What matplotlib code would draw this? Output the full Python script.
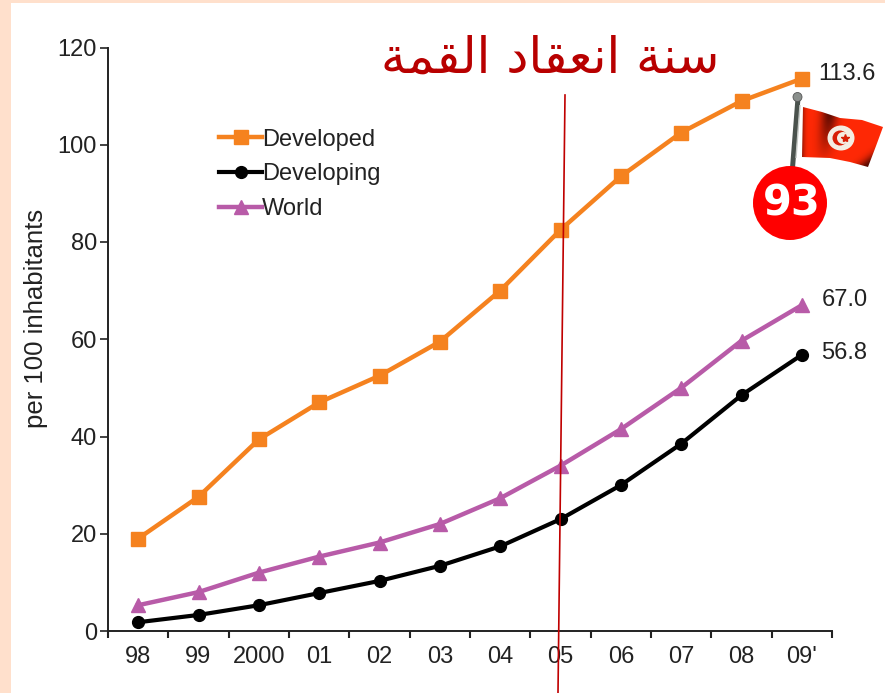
import numpy as np
import matplotlib
matplotlib.use('Agg')
import matplotlib.pyplot as plt
from matplotlib.patches import Circle, Ellipse, Polygon, Rectangle

years = ['98', '99', '2000', '01', '02', '03', '04', '05', '06', '07', '08', "09'"]
developed = [19.0, 27.6, 39.4, 47.0, 52.5, 59.5, 70.0, 82.5, 93.5, 102.5, 109.0, 113.6]
developing = [1.8, 3.3, 5.3, 7.8, 10.3, 13.4, 17.4, 23.0, 30.0, 38.5, 48.5, 56.8]
world = [5.3, 8.0, 12.0, 15.3, 18.2, 22.0, 27.3, 34.0, 41.5, 50.0, 59.7, 67.0]
end_labels = ['113.6', '56.8', '67.0']
y_ticks = [0, 20, 40, 60, 80, 100, 120]

# presentation forms, reversed because matplotlib does no arabic shaping
summit = ('\ufeb3\ufee8\ufe94 \ufe8d\ufee7\ufecc\ufed8\ufe8e\ufea9 '
          '\ufe8d\ufedf\ufed8\ufee4\ufe94')[::-1]

W, H = 885, 693
fig = plt.figure(figsize=(W/100, H/100), dpi=100, facecolor='#FFE0CC')
plt.rcParams['font.family'] = ['Liberation Sans', 'DejaVu Sans']

# white page, in pixel coordinates
page = fig.add_axes([0, 0, 1, 1], zorder=0)
page.set_xlim(0, W)
page.set_ylim(H, 0)
page.axis('off')
page.add_patch(Rectangle((11, 3), W - 11, H - 3, fc='white', ec='none'))

ax = fig.add_axes([108/W, 1 - 631/H, (832 - 108)/W, (631 - 47.5)/H], zorder=1)
ax.patch.set_alpha(0)
x = np.arange(len(years)) + 0.5

ax.plot(x, developed, color='#F5821F', lw=3.2, marker='s', ms=9.5, label='Developed')
ax.plot(x, developing, color='black', lw=3, marker='o', ms=8.5, label='Developing')
ax.plot(x, world, color='#B85BA8', lw=3.2, marker='^', ms=9.5, label='World')

ax.set_xlim(0, len(years))
ax.set_ylim(0, 120)
ax.set_xticks(np.arange(len(years) + 1))
ax.set_xticklabels([])
ax.set_xticks(x, minor=True)
ax.set_xticklabels(years, minor=True, fontsize=17, color='#222222')
ax.tick_params(axis='x', which='minor', length=0, pad=11)
ax.tick_params(axis='x', which='major', length=5, width=1.5, color='#222222')
ax.set_yticks(y_ticks)
ax.tick_params(axis='y', length=6, width=1.2, color='#222222', labelsize=17,
               labelcolor='#222222', pad=2)
for s in ['top', 'right']:
    ax.spines[s].set_visible(False)
for s in ['left', 'bottom']:
    ax.spines[s].set_linewidth(1.4)
    ax.spines[s].set_color('#222222')
ax.set_ylabel('per 100 inhabitants', fontsize=18.5, color='#222222', labelpad=0)
ax.yaxis.set_label_coords((48 - 108)/724, (631 - 318)/583.5)

ax.legend(loc='upper left', bbox_to_anchor=(0.154, 0.861), frameon=False, fontsize=17,
          handlelength=1.78, handletextpad=0.03, labelspacing=0.54, borderpad=0,
          borderaxespad=0, labelcolor='#222222')

for series, label, dy in zip([developed, developing, world], end_labels, [3, 1, 4]):
    ax.annotate(label, (x[-1], series[-1]), xytext=(12 if label == '113.6' else 14, dy),
                textcoords='offset points', fontsize=17, color='#222222', va='center',
                annotation_clip=False)

# overlay for the hand-added red line, title and flag
top = fig.add_axes([0, 0, 1, 1], zorder=2)
top.set_xlim(0, W)
top.set_ylim(H, 0)
top.axis('off')
top.plot([565, 558], [95, 693], color='#C00000', lw=1.2)
top.text(550, 59, summit, family='DejaVu Sans', fontsize=35.8, color='#B80000',
         ha='center', va='center')

# flag
gx, gy = np.meshgrid(np.linspace(0, 1, 90), np.linspace(0, 1, 60))
band = np.exp(-((gx - 0.36 + 0.1*gy)/0.1)**2)*np.clip(1.1 - 1.2*gy, 0, 1)
edge = np.exp(-((gx + gy - 1.75)/0.14)**2)
left = np.exp(-(gx/0.05)**2)
shade = np.clip(1 - 0.75*band - 0.75*edge - 0.5*left, 0, 1)
img = np.dstack([0.12 + 0.88*shade, 0.16*shade, 0.02*shade])
im = top.imshow(img, extent=(800, 885, 170, 105), aspect='auto', zorder=3, interpolation='bilinear')
cloth = Polygon([(803, 107), (822, 112), (840, 118), (862, 120), (883, 127), (876, 146), (868, 167),
                 (850, 162), (830, 158), (802, 157)], closed=True, transform=top.transData,
                fc='none', ec='none')
top.add_patch(cloth)
im.set_clip_path(cloth)
top.set_xlim(0, W)
top.set_ylim(H, 0)
top.add_patch(Ellipse((841, 138), 27, 25, fc='#F4EDE2', ec='none', zorder=4))
top.add_patch(Circle((840, 138), 7.5, fc='#D81E05', ec='none', zorder=5))
top.add_patch(Circle((843, 138), 6, fc='#F4EDE2', ec='none', zorder=6))
top.plot([845], [138], marker='*', ms=6, color='#D81E05', zorder=7)
top.plot([798, 792.5], [98, 168], color='#4A524D', lw=3.6, zorder=3, solid_capstyle='butt')
top.plot([800, 796], [105, 158], color='#C4C8C4', lw=1, zorder=3, solid_capstyle='butt')
top.add_patch(Circle((797.5, 97), 4.5, fc='#8A8F8C', ec='#555555', lw=0.6, zorder=4))

# rank badge
top.add_patch(Circle((790, 203), 37, fc='#FF0000', ec='none', zorder=8))
top.text(792, 204, '93', family='DejaVu Sans', fontweight='bold', fontsize=30,
         color='white', ha='center', va='center', zorder=9)

fig.savefig('out.png', dpi=100, facecolor=fig.get_facecolor())
